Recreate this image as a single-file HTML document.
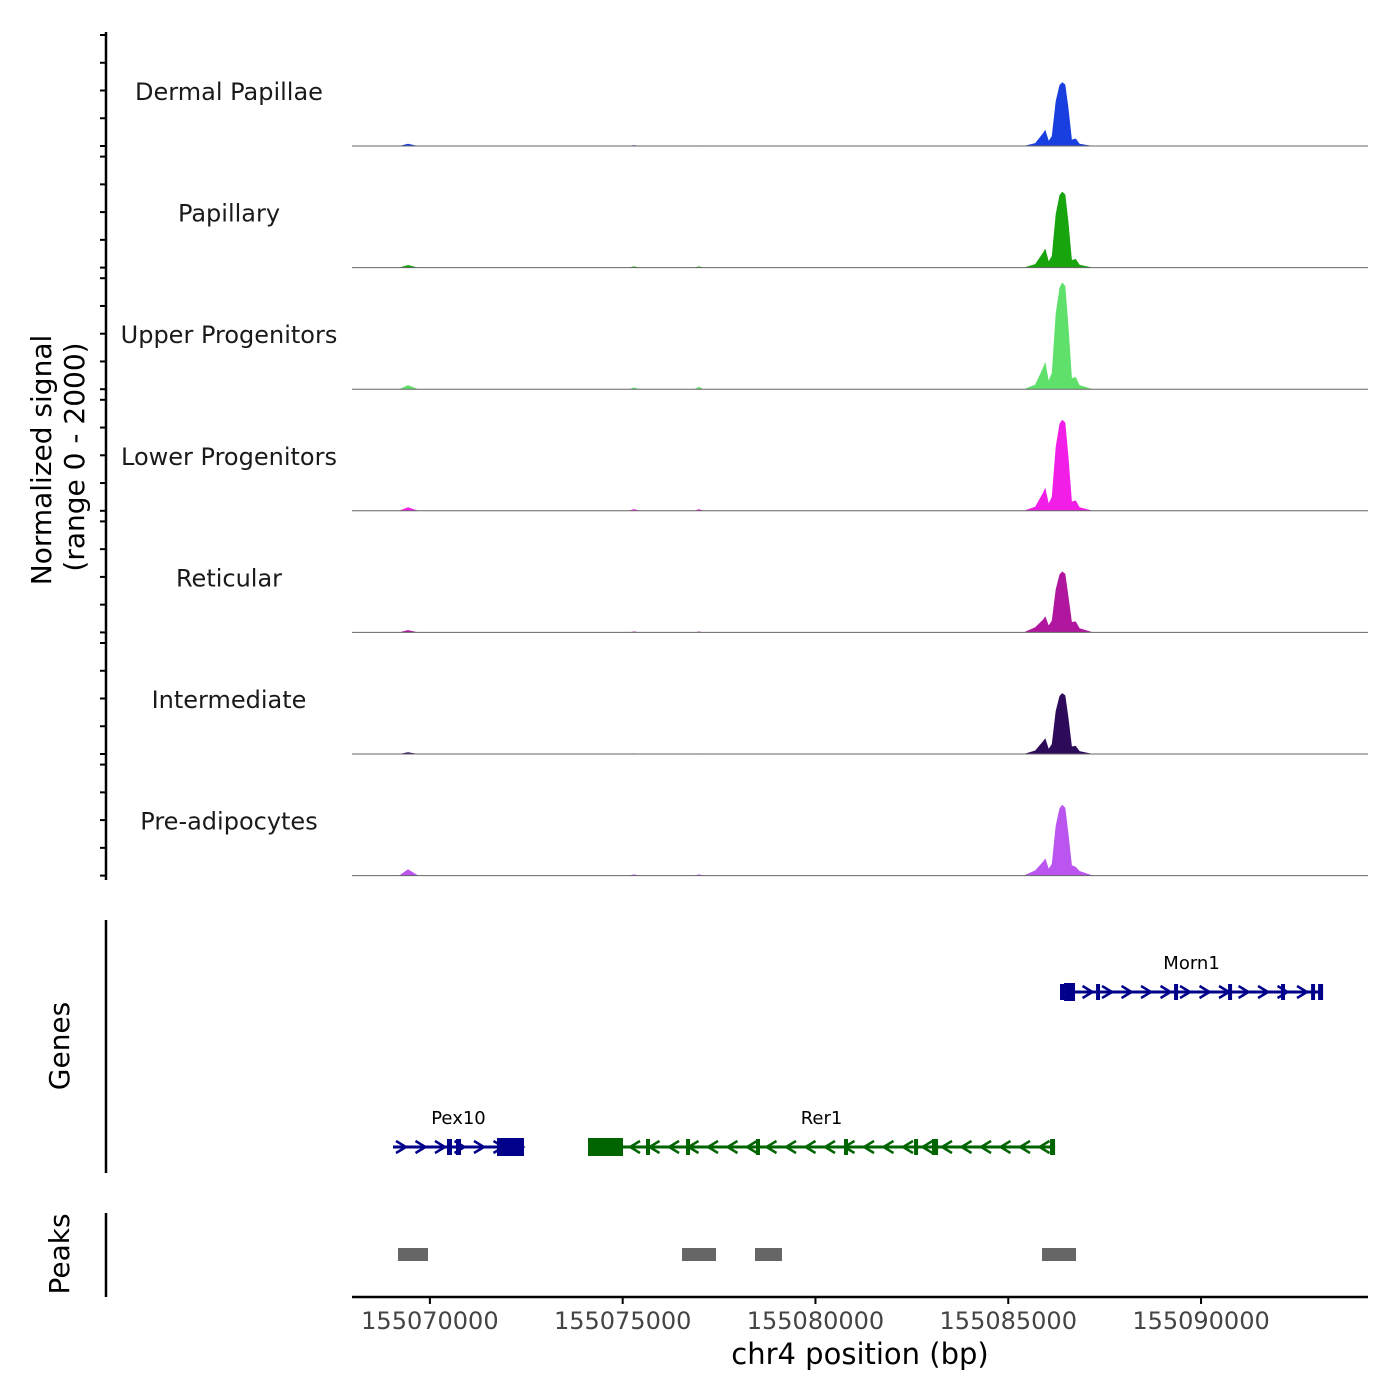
<!DOCTYPE html>
<html><head><meta charset="utf-8"><style>body{margin:0;background:#fff}svg{display:block;font-family:"DejaVu Sans","Liberation Sans",sans-serif}</style></head>
<body>
<svg id="c" width="1400" height="1400"></svg>
<script>
const positions=[155067980,155069200,155069433,155069700,155075150,155075294,155075450,155076850,155076980,155077100,155085400,155085700,155085900,155085960,155086050,155086130,155086230,155086330,155086400,155086480,155086560,155086650,155086750,155086850,155087200,155094330];
const trackNames=["Dermal Papillae","Papillary","Upper Progenitors","Lower Progenitors","Reticular","Intermediate","Pre-adipocytes"];
const trackColors=["#1a3fe0","#18a40c","#5ee06a","#f21ee8","#b0169e","#2e0a5a","#bb55f0"];
const sigDP=[0,0,40,0,0,15,0,0,10,0,0,50,220,280,90,170,770,1050,1100,1060,660,110,130,40,0,0];
const sigP=[0,0,45,0,0,20,0,0,20,0,0,60,260,330,110,200,920,1250,1310,1260,790,130,150,50,0,0];
const sigUP=[0,0,70,0,0,30,0,0,40,0,0,80,370,470,150,280,1300,1750,1840,1780,1100,190,210,70,0,0];
const sigLP=[0,0,60,0,0,30,0,0,30,0,0,70,310,400,130,240,1100,1500,1570,1520,940,160,180,60,0,0];
const sigR=[0,0,40,0,0,15,0,0,15,0,0,90,220,280,120,200,740,1000,1050,1010,630,180,190,70,0,0];
const sigI=[0,0,30,0,0,10,0,0,10,0,0,60,220,270,90,170,740,1000,1050,1010,630,130,140,50,0,0];
const sigPA=[0,0,110,0,0,20,0,0,20,0,0,90,240,300,120,200,860,1160,1220,1170,730,180,150,80,0,0];
const xTicks=[155070000,155075000,155080000,155085000,155090000];
const peakStarts=[155069173,155076539,155078432,155085876];
const peakEnds=[155069951,155077421,155079132,155086758];
const geneNames=["Pex10","Rer1","Morn1"];
const geneStarts=[155069043,155074101,155086343];
const geneEnds=[155072441,155086214,155093165];
const geneStrand=[1,-1,1];
const geneRow=[1,1,0];
const exPex10=[[155070444,155070574],[155070677,155070807],[155071741,155072441]];
const exRer1=[[155074101,155075009],[155075605,155075709],[155076643,155076721],[155078458,155078562],[155080741,155080845],[155082557,155082634],[155083023,155083179],[155086084,155086214]];
const exMorn1=[[155086343,155086421],[155086447,155086732],[155087277,155087355],[155089300,155089404],[155090701,155090805],[155092075,155092153],[155092854,155092931],[155093035,155093165]];
const signals=[sigDP,sigP,sigUP,sigLP,sigR,sigI,sigPA];
const exons=[exPex10,exRer1,exMorn1];

const NS="http://www.w3.org/2000/svg";const svg=document.getElementById('c');
function mk(t,a,p){const e=document.createElementNS(NS,t);for(const k in a)e.setAttribute(k,a[k]);(p||svg).appendChild(e);return e;}
const X0=155067980,X1=155094330,PL=352,PR=1368;
const x=b=>PL+(b-X0)/(X1-X0)*(PR-PL);
const panelH=121.6,sigH=116;
const y=(v,base)=>base-v/2000*sigH;

let e=mk('line',{x1:106,y1:32,x2:106,y2:880,stroke:'#000','stroke-width':2.5});

for(let i=0;i<7;i++){
  const base=146+i*panelH;
  for(let k=0;k<=4;k++){const ty=base-k*(sigH-5)/4;
    e=mk('line',{x1:100,y1:ty,x2:106,y2:ty,stroke:'#000','stroke-width':2});
    }
  const g=mk('g',{});
  let d='M'+x(positions[0])+','+base;
  signals[i].forEach((v,j)=>{d+=' L'+x(positions[j]).toFixed(1)+','+y(v,base).toFixed(1);});
  d+=' L'+x(positions[positions.length-1])+','+base+'Z';
  e=mk('path',{d:d,fill:trackColors[i]},g);
  e=mk('line',{x1:PL,y1:base,x2:PR,y2:base,stroke:'#666','stroke-width':1},g);
  e=mk('text',{x:229,y:base-46,'text-anchor':'middle','font-size':24,fill:'#1a1a1a'},g);e.textContent=trackNames[i];
  
}
e=mk('text',{transform:'translate(51,460) rotate(-90)','text-anchor':'middle','font-size':28});e.textContent='Normalized signal';

e=mk('text',{transform:'translate(84,457) rotate(-90)','text-anchor':'middle','font-size':28});e.textContent='(range 0 - 2000)';


e=mk('line',{x1:106,y1:920,x2:106,y2:1173,stroke:'#000','stroke-width':2.5});
e=mk('text',{transform:'translate(69,1046) rotate(-90)','text-anchor':'middle','font-size':28});e.textContent='Genes';

const rowY=[992,1147];
geneNames.forEach((n,i)=>{
  const gy=rowY[geneRow[i]],col=geneStrand[i]>0?'#00008b':'#006400';
  const g=mk('g',{});
  const xa=x(geneStarts[i]),xb=x(geneEnds[i]);
  mk('line',{x1:xa,y1:gy,x2:xb,y2:gy,stroke:col,'stroke-width':3},g);
  for(let ax=xa+8;ax<xb-6;ax+=19.5){const s=geneStrand[i]*5;
    mk('path',{d:`M${ax-s},${gy-6} L${ax+s},${gy} L${ax-s},${gy+6}`,fill:'none',stroke:col,'stroke-width':2.5},g);}
  exons[i].forEach(ex=>{const a=x(ex[0]),b=x(ex[1]);const big=(b-a)>8;
    e=mk('rect',{x:a,y:gy-(big?9:8),width:Math.max(b-a,4),height:big?18:16,fill:col},g);});
  e=mk('text',{x:(xa+xb)/2,y:gy-23,'text-anchor':'middle','font-size':18},g);e.textContent=n;
  
});

e=mk('line',{x1:106,y1:1213,x2:106,y2:1297,stroke:'#000','stroke-width':2.5});
e=mk('text',{transform:'translate(69,1254) rotate(-90)','text-anchor':'middle','font-size':28});e.textContent='Peaks';

peakStarts.forEach((s,i)=>{e=mk('rect',{x:x(s),y:1248,width:x(peakEnds[i])-x(s),height:13,fill:'#666'});
  });

e=mk('line',{x1:PL,y1:1297,x2:PR,y2:1297,stroke:'#000','stroke-width':2.5});
xTicks.forEach(t=>{e=mk('line',{x1:x(t),y1:1297,x2:x(t),y2:1304,stroke:'#000','stroke-width':2});
  e=mk('text',{x:x(t),y:1329,'text-anchor':'middle','font-size':24,fill:'#444'});e.textContent=t;});
e=mk('text',{x:860,y:1364,'text-anchor':'middle','font-size':29});e.textContent='chr4 position (bp)';

</script>
</body></html>
